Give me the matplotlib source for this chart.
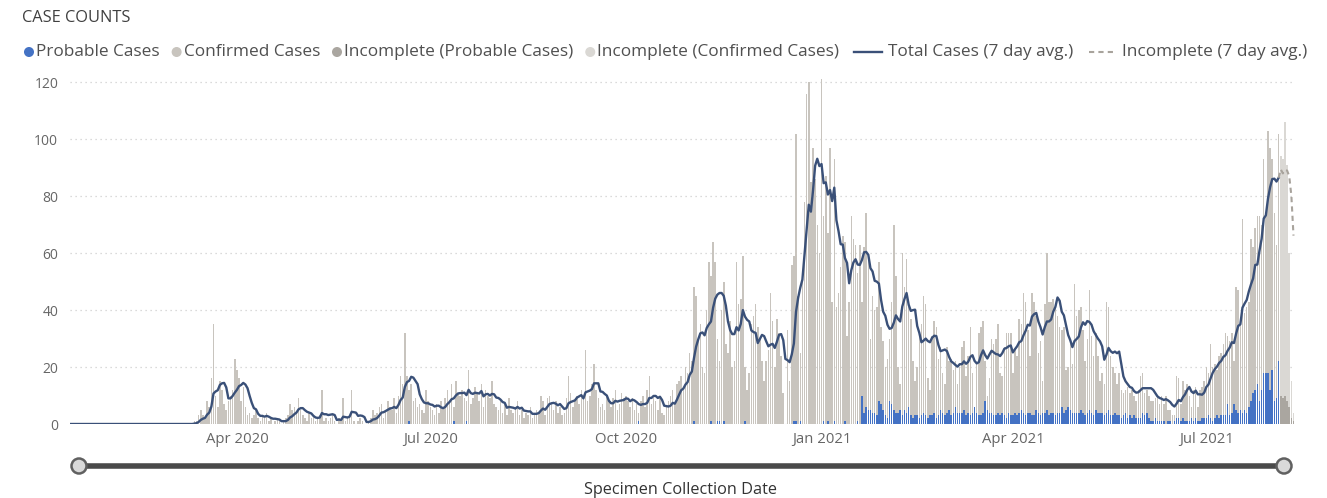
import matplotlib
matplotlib.use("Agg")
import matplotlib.pyplot as plt
from matplotlib.lines import Line2D
from matplotlib.patches import Circle
import numpy as np
import pandas as pd

plt.rcParams['font.family'] = ['Open Sans', 'DejaVu Sans']

# daily case counts (total = probable + confirmed)
start_date = "2020-01-14"
jan_2020 = [0, 0, 0, 0, 0, 0, 0, 0, 0, 0, 0, 0, 0, 0, 0, 0, 0, 0]
feb_2020 = [0, 0, 0, 0, 0, 0, 0, 0, 0, 0, 0, 0, 0, 0, 0, 0, 0, 0, 0, 0,
            0, 0, 0, 0, 0, 0, 0, 0, 0]
mar_2020 = [0, 0, 0, 0, 0, 0, 0, 0, 0, 0, 0, 1, 1, 3, 5, 3, 2, 8, 6, 16,
            35, 10, 6, 15, 12, 7, 5, 8, 10, 12, 23]
apr_2020 = [19, 16, 8, 13, 6, 3, 4, 2, 3, 5, 2, 1, 3, 2, 4, 1, 2, 0, 1, 2,
            1, 0, 1, 2, 3, 7, 5, 6, 4, 9]
may_2020 = [5, 3, 2, 1, 4, 2, 3, 1, 2, 3, 12, 1, 2, 1, 2, 3, 1, 0, 2, 1,
            9, 1, 2, 3, 12, 1, 0, 1, 2, 1, 0]
jun_2020 = [0, 1, 2, 5, 3, 4, 6, 7, 2, 5, 8, 6, 5, 9, 4, 10, 17, 14, 32, 17,
            12, 14, 8, 9, 6, 7, 5, 4, 12, 8]
jul_2020 = [6, 5, 3, 7, 4, 8, 6, 9, 12, 8, 14, 6, 15, 11, 10, 12, 9, 8, 19, 7,
            9, 13, 11, 8, 14, 6, 12, 10, 9, 15, 7]
aug_2020 = [6, 5, 8, 4, 7, 3, 9, 5, 4, 6, 8, 3, 5, 2, 4, 3, 6, 2, 3, 5,
            4, 10, 8, 3, 9, 10, 7, 5, 8, 4, 6]
sep_2020 = [3, 4, 9, 17, 11, 6, 8, 10, 7, 12, 9, 26, 8, 10, 14, 21, 12, 9, 6, 7,
            5, 10, 8, 6, 9, 12, 5, 7, 11, 9]
oct_2020 = [10, 8, 6, 9, 5, 7, 4, 8, 10, 6, 12, 17, 7, 9, 8, 5, 9, 4, 3, 6,
            8, 10, 12, 7, 14, 15, 17, 12, 20, 18, 25]
nov_2020 = [22, 48, 45, 30, 35, 20, 18, 40, 57, 52, 64, 57, 30, 22, 40, 50, 28, 25, 36, 20,
            22, 57, 42, 44, 59, 20, 12, 18, 35, 38]
dec_2020 = [42, 34, 30, 22, 15, 22, 26, 46, 36, 20, 37, 32, 24, 11, 0, 33, 15, 56, 59, 102,
            45, 25, 53, 78, 116, 120, 85, 97, 86, 70, 60]
jan_2021 = [121, 73, 87, 67, 97, 43, 93, 41, 46, 55, 66, 64, 31, 43, 73, 65, 63, 53, 63, 43,
            62, 74, 58, 30, 45, 40, 41, 57, 34, 29, 20]
feb_2021 = [23, 30, 43, 70, 52, 20, 14, 60, 48, 58, 41, 37, 22, 15, 20, 31, 35, 45, 42, 16,
            12, 31, 36, 34, 23, 27, 18, 14]
mar_2021 = [27, 22, 23, 19, 22, 14, 20, 27, 29, 17, 24, 34, 18, 6, 21, 32, 34, 36, 22, 10,
            16, 30, 28, 30, 35, 18, 17, 27, 32, 32, 32]
apr_2021 = [18, 26, 24, 37, 35, 46, 43, 33, 24, 46, 43, 38, 25, 29, 15, 42, 60, 43, 43, 44,
            41, 38, 34, 33, 34, 19, 20, 28, 21, 49]
may_2021 = [38, 40, 41, 33, 22, 30, 47, 31, 24, 32, 24, 15, 18, 14, 43, 41, 24, 20, 18, 14,
            18, 12, 11, 12, 13, 11, 12, 10, 8, 12, 17]
jun_2021 = [18, 11, 12, 10, 8, 8, 9, 10, 7, 10, 7, 10, 5, 5, 3, 3, 17, 16, 7, 15,
            12, 14, 10, 6, 12, 13, 6, 12, 13, 15]
jul_2021 = [20, 18, 28, 20, 21, 19, 24, 25, 28, 32, 31, 29, 32, 22, 48, 47, 36, 72, 39, 41,
            43, 65, 62, 69, 73, 73, 70, 93, 73, 103, 97]
aug_2021 = [93, 74, 63, 102, 94, 93, 106, 91, 60, 15, 4]

# probable cases: a few single ones in 2020, daily from 2021
prob_2020_dates = ["2020-06-21", "2020-07-12", "2020-07-18", "2020-10-07", "2020-11-02",
                   "2020-11-10", "2020-11-13", "2020-11-14", "2020-11-16", "2020-11-26",
                   "2020-12-19", "2020-12-20", "2020-12-22"]
prob_2020_values = [1, 1, 1, 1, 1, 1, 1, 1, 1, 1, 1, 1, 1]
prob_jan_2021 = [0, 1, 0, 1, 0, 0, 1, 0, 0, 0, 0, 1, 0, 0, 0, 0, 0, 1, 0, 10,
                 4, 6, 5, 5, 4, 4, 3, 8, 7, 5, 3]
prob_feb_2021 = [2, 8, 7, 5, 4, 4, 5, 3, 5, 4, 6, 3, 2, 3, 3, 2, 3, 4, 3, 2,
                 3, 3, 4, 2, 3, 5, 4, 3]
prob_mar_2021 = [4, 5, 3, 4, 6, 4, 4, 4, 5, 3, 4, 3, 4, 6, 4, 3, 3, 4, 8, 5,
                 4, 4, 3, 3, 4, 3, 4, 3, 2, 4, 3]
prob_apr_2021 = [3, 4, 3, 4, 5, 4, 3, 4, 4, 3, 3, 5, 4, 3, 4, 4, 5, 3, 4, 4,
                 3, 4, 4, 6, 4, 5, 6, 5, 4, 4]
prob_may_2021 = [4, 4, 5, 4, 3, 4, 5, 4, 3, 5, 4, 4, 4, 3, 4, 5, 3, 3, 4, 3,
                 3, 2, 3, 4, 2, 3, 2, 3, 2, 2, 2]
prob_jun_2021 = [4, 3, 4, 2, 1, 1, 2, 1, 1, 1, 1, 0, 1, 1, 0, 1, 2, 2, 1, 2,
                 1, 1, 1, 2, 1, 2, 1, 1, 2, 2]
prob_jul_2021 = [2, 3, 2, 1, 2, 3, 2, 3, 3, 3, 7, 3, 4, 7, 5, 4, 5, 4, 5, 4,
                 6, 8, 11, 12, 14, 8, 12, 18, 18, 18, 12]
prob_aug_2021 = [19, 8, 9, 22, 10, 9, 10, 8, 6, 2, 1]

incomplete_from = "2021-08-05"
tick_dates = ["2020-04-01", "2020-07-01", "2020-10-01", "2021-01-01", "2021-04-01", "2021-07-01"]
tick_labels = ["Apr 2020", "Jul 2020", "Oct 2020", "Jan 2021", "Apr 2021", "Jul 2021"]
y_ticks = [0, 20, 40, 60, 80, 100, 120]

C_PROB = "#4472c4"
C_CONF = "#c8c4be"
C_INC_PROB = "#aaa6a0"
C_INC_CONF = "#dad8d4"
C_LINE = "#3a5078"
C_DASH = "#a8a39c"

total = np.array(jan_2020 + feb_2020 + mar_2020 + apr_2020 + may_2020 + jun_2020 +
                 jul_2020 + aug_2020 + sep_2020 + oct_2020 + nov_2020 + dec_2020 +
                 jan_2021 + feb_2021 + mar_2021 + apr_2021 + may_2021 + jun_2021 +
                 jul_2021 + aug_2021, dtype=float)
dates = pd.date_range(start_date, periods=len(total), freq="D")

prob = pd.Series(0.0, index=dates)
prob[pd.to_datetime(prob_2020_dates)] = prob_2020_values
p21 = (prob_jan_2021 + prob_feb_2021 + prob_mar_2021 + prob_apr_2021 +
       prob_may_2021 + prob_jun_2021 + prob_jul_2021 + prob_aug_2021)
prob[prob.index >= "2021-01-01"] = p21
prob = prob.values
conf = total - prob

avg = pd.Series(total).rolling(7, min_periods=1).mean().values
inc = dates >= pd.Timestamp(incomplete_from)
comp = ~inc

fig = plt.figure(figsize=(13.27, 4.98), dpi=100)
W, H = 1327, 498
ax = fig.add_axes([70 / W, 1 - 424 / H, 1225 / W, 346 / H])

bw = 0.72
ax.bar(dates[comp], prob[comp], width=bw, color=C_PROB, linewidth=0, zorder=2)
ax.bar(dates[comp], conf[comp], bottom=prob[comp], width=bw, color=C_CONF, linewidth=0, zorder=2)
ax.bar(dates[inc], prob[inc], width=bw, color=C_INC_PROB, linewidth=0, zorder=2)
ax.bar(dates[inc], conf[inc], bottom=prob[inc], width=bw, color=C_INC_CONF, linewidth=0, zorder=2)

last_comp = np.where(comp)[0][-1]
ax.plot(dates[:last_comp + 1], avg[:last_comp + 1], color=C_LINE, lw=1.7, zorder=3)
ax.plot(dates[last_comp:], avg[last_comp:], color=C_DASH, lw=1.5, ls=(0, (2.5, 2)), zorder=3)

ax.set_xlim(dates[0] - pd.Timedelta(hours=12), dates[-1] + pd.Timedelta(hours=17))
ax.set_ylim(0, 121.5)
ax.set_yticks(y_ticks)
ax.set_xticks(pd.to_datetime(tick_dates))
ax.set_xticklabels(tick_labels)
ax.tick_params(length=0, colors="#666666", labelsize=10.7)
ax.tick_params(axis="y", labelsize=10, pad=8.5)
ax.tick_params(axis="x", pad=6)
ax.grid(axis="y", color="#cfcfcf", linestyle=(0, (1, 3)), linewidth=0.9, zorder=0)
for s in ax.spines.values():
    s.set_visible(False)

# overlay in pixel coordinates for title, legend and slider
ov = fig.add_axes([0, 0, 1, 1], zorder=5)
ov.set_xlim(0, W)
ov.set_ylim(H, 0)
ov.axis("off")
ov.patch.set_alpha(0)

ov.text(22, 18, "CASE COUNTS", fontsize=11.8, color="#404040", va="center")

renderer = fig.canvas.get_renderer()
legend_items = [
    ("dot", C_PROB, "Probable Cases"),
    ("dot", C_CONF, "Confirmed Cases"),
    ("dot", C_INC_PROB, "Incomplete (Probable Cases)"),
    ("dot", C_INC_CONF, "Incomplete (Confirmed Cases)"),
    ("line", C_LINE, "Total Cases (7 day avg.)"),
    ("dash", C_DASH, "Incomplete (7 day avg.)"),
]
x = 25
ly = 52
for kind, col, label in legend_items:
    if kind == "dot":
        ov.add_patch(Circle((x + 4, ly), 4.3, color=col))
        x += 11
    else:
        ov.add_line(Line2D([x + 2, x + 30], [ly, ly], color=col, lw=1.7 if kind == "line" else 1.5,
                           ls="-" if kind == "line" else (0, (2.5, 2))))
        x += 36
    t = ov.text(x, ly, label, fontsize=12.4, color="#505050", va="center")
    x += t.get_window_extent(renderer).width + 13

# date range slider under the chart
ov.add_line(Line2D([79, 1284], [466, 466], color="#4a4a4a", lw=4, solid_capstyle="butt"))
for cx in (79, 1284):
    ov.add_patch(Circle((cx, 466), 7.5, facecolor="#d9d9d9", edgecolor="#606060", lw=1.8, zorder=6))
ov.text(681, 490, "Specimen Collection Date", fontsize=11.7, color="#333333", ha="center", va="center")

fig.savefig("out.png", dpi=100)
